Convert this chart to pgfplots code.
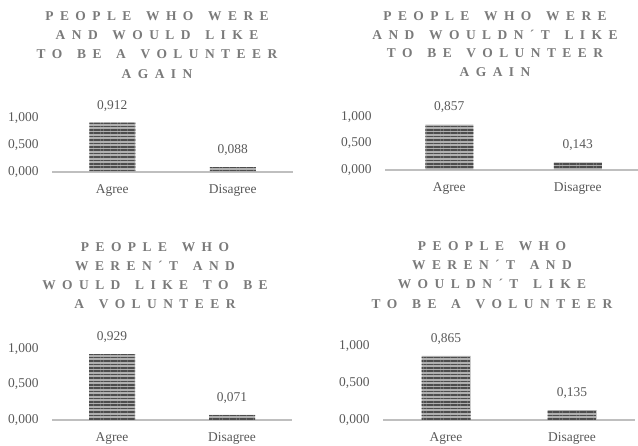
\documentclass[border=0pt]{standalone}
\usepackage{pgfplots}
\pgfplotsset{compat=1.18}
\usetikzlibrary{patterns.meta}
\usepackage{fontspec}
\setmainfont{Liberation Serif}
\newfontfamily\titlefont[LetterSpace=48,WordSpace=1.5]{Liberation Serif}
\definecolor{txt}{HTML}{595959}
\definecolor{ttl}{HTML}{7A7A7A}
\definecolor{base}{HTML}{BFBFBF}
\definecolor{stripeA}{HTML}{4D4D4D}
\definecolor{stripeB}{HTML}{B0B0B0}
\pgfplotsset{
  panel/.style={
    scale only axis,
    anchor=south west,
    ybar,
    ymin=0, ymax=1,
    xmin=-0.5, xmax=1.5,
    xtick={0,1},
    xticklabels={Agree,Disagree},
    ytick={0,0.5,1},
    axis x line*=bottom,
    axis y line*=left,
    y axis line style={draw=none},
    x axis line style={base,line width=1.6bp,-},
    major tick length=0pt,
    tick style={draw=none},
    clip=false,
    /pgf/number format/assume math mode=true,
    yticklabel style={/pgf/number format/fixed,/pgf/number format/fixed zerofill,/pgf/number format/precision=3,/pgf/number format/use comma, xshift=-10bp},
    xticklabel style={yshift=-9bp},
    ticklabel style={font=\fontsize{13.5}{14}\selectfont, text=txt},
    nodes near coords,
    nodes near coords style={font=\fontsize{13.5}{14}\selectfont, text=txt,
      /pgf/number format/fixed,/pgf/number format/fixed zerofill,/pgf/number format/precision=3,/pgf/number format/use comma, /pgf/number format/assume math mode=true},
    every node near coord/.append style={yshift=8bp},
  },
  barstyle/.style={draw=none, preaction={fill=stripeB},
    pattern={Lines[angle=0,distance=3.4bp,line width=1.7bp]}, pattern color=stripeA},
}
\begin{document}
\begin{tikzpicture}[x=1bp,y=1bp]
\useasboundingbox (0,0) rectangle (638,446);
% titles
\node[font=\titlefont\bfseries\fontsize{13.5}{19.3}\selectfont, text=ttl, align=center] at (157,401)
  {PEOPLE WHO WERE\\AND WOULD LIKE\\TO BE A VOLUNTEER\\AGAIN};
\node[font=\titlefont\bfseries\fontsize{13.5}{18.7}\selectfont, text=ttl, align=center] at (495,402)
  {PEOPLE WHO WERE\\AND WOULDN\textasciiacute T LIKE\\TO BE VOLUNTEER\\AGAIN};
\node[font=\titlefont\bfseries\fontsize{13.5}{19.3}\selectfont, text=ttl, align=center] at (155,170.5)
  {PEOPLE WHO\\WEREN\textasciiacute T AND\\WOULD LIKE TO BE\\A VOLUNTEER};
\node[font=\titlefont\bfseries\fontsize{13.5}{19.3}\selectfont, text=ttl, align=center] at (492,171)
  {PEOPLE WHO\\WEREN\textasciiacute T AND\\WOULDN\textasciiacute T LIKE\\TO BE A VOLUNTEER};
% panel 1
\begin{axis}[panel, at={(52bp,274bp)}, width=241bp, height=54bp, bar width=46bp]
\addplot[barstyle] coordinates {(0,0.912) (1,0.088)};
\end{axis}
% panel 2
\begin{axis}[panel, at={(385bp,276bp)}, width=257bp, height=53bp, bar width=48bp]
\addplot[barstyle] coordinates {(0,0.857) (1,0.143)};
\end{axis}
% panel 3
\begin{axis}[panel, at={(52bp,26bp)}, width=240bp, height=71bp, bar width=46bp]
\addplot[barstyle] coordinates {(0,0.929) (1,0.071)};
\end{axis}
% panel 4
\begin{axis}[panel, at={(383bp,26bp)}, width=252bp, height=74bp, bar width=49bp]
\addplot[barstyle] coordinates {(0,0.865) (1,0.135)};
\end{axis}
\end{tikzpicture}
\end{document}
